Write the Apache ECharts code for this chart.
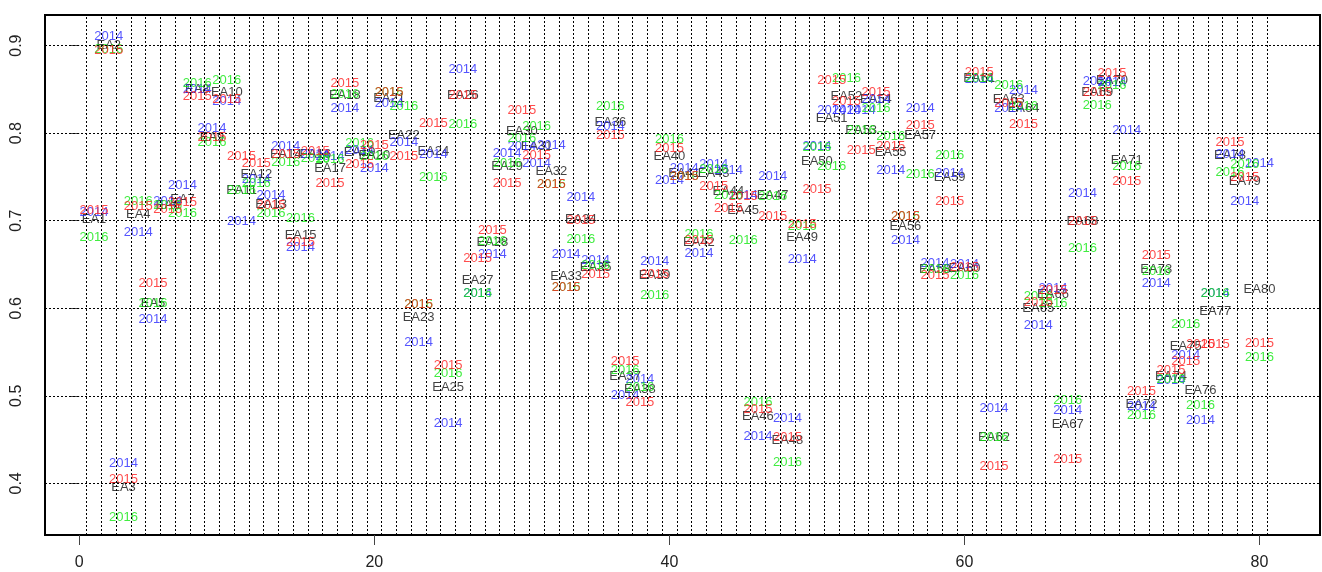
<!DOCTYPE html>
<html>
<head>
<meta charset="utf-8">
<script src="https://cdn.jsdelivr.net/npm/echarts@6/dist/echarts.min.js"></script>
<style>
  html, body { margin: 0; padding: 0; background: #fff; }
  #chart { width: 1322px; height: 572px; }
</style>
</head>
<body>
<div id="chart"></div>
<script>
// labels EA1..EA80 sit at x = 1..80
const eaNames = Array.from({ length: 80 }, (_, i) => 'EA' + (i + 1));

// y of the black EA label
const eaLevel = [
  0.701, 0.900, 0.395, 0.707, 0.605, 0.718, 0.724, 0.850, 0.795, 0.846,
  0.735, 0.753, 0.7185, 0.776, 0.683, 0.776, 0.760, 0.843, 0.778, 0.775,
  0.840, 0.798, 0.590, 0.779, 0.510, 0.843, 0.632, 0.675, 0.7625, 0.802,
  0.785, 0.756, 0.636, 0.702, 0.647, 0.812, 0.522, 0.507, 0.637, 0.774,
  0.754, 0.675, 0.754, 0.733, 0.712, 0.476, 0.729, 0.449, 0.681, 0.7675,
  0.817, 0.842, 0.803, 0.838, 0.778, 0.694, 0.797, 0.6445, 0.750, 0.645,
  0.862, 0.4525, 0.839, 0.828, 0.600, 0.616, 0.4677, 0.699, 0.846, 0.860,
  0.769, 0.4905, 0.6445, 0.522, 0.556, 0.5065, 0.596, 0.775, 0.745, 0.6216
];

const y2014 = [
  0.709, 0.910, 0.423, 0.687, 0.587, 0.722, 0.740, 0.850, 0.806, 0.836,
  0.699, 0.747, 0.729, 0.785, 0.670, 0.776, 0.773, 0.828, 0.780, 0.760,
  0.834, 0.789, 0.561, 0.776, 0.468, 0.873, 0.617, 0.661, 0.777, 0.785,
  0.765, 0.786, 0.661, 0.727, 0.655, 0.808, 0.501, 0.519, 0.653, 0.7465,
  0.760, 0.663, 0.764, 0.757, 0.729, 0.454, 0.751, 0.474, 0.656, 0.785,
  0.8265, 0.8265, 0.8265, 0.8385, 0.757, 0.677, 0.828, 0.651, 0.754, 0.650,
  0.861, 0.4856, 0.828, 0.849, 0.580, 0.623, 0.483, 0.731, 0.859, 0.858,
  0.8037, 0.488, 0.6285, 0.518, 0.5465, 0.4714, 0.617, 0.776, 0.722, 0.7656
];

const y2015 = [
  0.712, 0.895, 0.404, 0.716, 0.628, 0.713, 0.721, 0.842, 0.795, 0.839,
  0.773, 0.766, 0.718, 0.776, 0.675, 0.779, 0.743, 0.857, 0.764, 0.786,
  0.846, 0.773, 0.604, 0.811, 0.535, 0.843, 0.657, 0.689, 0.743, 0.826,
  0.775, 0.741, 0.624, 0.700, 0.639, 0.798, 0.539, 0.493, 0.639, 0.783,
  0.751, 0.678, 0.739, 0.714, 0.728, 0.4845, 0.705, 0.4525, 0.696, 0.736,
  0.860, 0.836, 0.780, 0.847, 0.785, 0.705, 0.809, 0.638, 0.722, 0.647,
  0.869, 0.419, 0.834, 0.8105, 0.607, 0.620, 0.4277, 0.699, 0.846, 0.8677,
  0.745, 0.5046, 0.660, 0.5294, 0.539, 0.559, 0.559, 0.789, 0.750, 0.560
];

const y2016 = [
  0.681, 0.896, 0.361, 0.722, 0.605, 0.718, 0.7085, 0.857, 0.789, 0.860,
  0.735, 0.743, 0.7085, 0.767, 0.703, 0.771, 0.770, 0.844, 0.788, 0.774,
  0.846, 0.830, 0.604, 0.750, 0.526, 0.8105, 0.617, 0.676, 0.766, 0.794,
  0.8075, 0.741, 0.624, 0.679, 0.649, 0.830, 0.529, 0.510, 0.615, 0.793,
  0.751, 0.684, 0.759, 0.729, 0.678, 0.492, 0.728, 0.4235, 0.694, 0.784,
  0.7625, 0.863, 0.803, 0.8285, 0.796, 0.705, 0.753, 0.6445, 0.775, 0.637,
  0.863, 0.452, 0.855, 0.830, 0.613, 0.605, 0.495, 0.668, 0.832, 0.854,
  0.762, 0.478, 0.642, 0.519, 0.582, 0.489, 0.617, 0.755, 0.764, 0.544
];

const xTicks = [0, 20, 40, 60, 80];
const yTicks = [0.4, 0.5, 0.6, 0.7, 0.8, 0.9];
// dotted verticals fall half way between the EA positions
const vGrid = Array.from({ length: 81 }, (_, i) => i + 0.5);

const FONT = '"Liberation Sans", Arial, sans-serif';

const textSeries = (name, values, color, textOf) => ({
    name: name,
    type: 'scatter',
    symbolSize: 1,
    itemStyle: { color: 'transparent' },
    silent: true,
    data: values.map((v, i) => [i + 1, v]),
    label: {
        show: true,
        position: 'inside',
        color: color,
        fontSize: 13,
        fontFamily: FONT,
        formatter: textOf
    }
});

const chart = echarts.init(document.getElementById('chart'));
chart.setOption({
    animation: false,
    grid: {
        show: true,
        left: 45,
        right: 2,
        top: 15,
        bottom: 37,
        borderColor: '#000',
        borderWidth: 2
    },
    xAxis: {
        type: 'value',
        min: -2.324,
        max: 84.1,
        axisLine: { show: false },
        splitLine: { show: false },
        axisTick: {
            show: true,
            customValues: xTicks,
            length: 10,
            lineStyle: { color: '#444' }
        },
        axisLabel: {
            customValues: xTicks,
            margin: 20,
            fontSize: 16,
            color: '#222',
            fontFamily: FONT
        }
    },
    yAxis: {
        type: 'value',
        min: 0.341,
        max: 0.935,
        axisLine: { show: false },
        splitLine: { show: false },
        axisTick: {
            show: true,
            customValues: yTicks,
            length: 10,
            lineStyle: { color: '#444' }
        },
        axisLabel: {
            customValues: yTicks,
            rotate: 90,
            margin: 20,
            fontSize: 16,
            color: '#222',
            fontFamily: FONT,
            formatter: (v) => v.toFixed(1)
        }
    },
    series: [
        {
            type: 'scatter',
            data: [],
            silent: true,
            markLine: {
                silent: true,
                symbol: ['none', 'none'],
                label: { show: false },
                lineStyle: { color: '#000', width: 1, type: [2, 2] },
                data: vGrid.map((x) => ({ xAxis: x }))
                    .concat(yTicks.map((y) => ({ yAxis: y })))
            }
        },
        textSeries('EA', eaLevel, '#111', (p) => eaNames[p.dataIndex]),
        textSeries('2014', y2014, '#2b2bff', () => '2014'),
        textSeries('2016', y2016, '#12e812', () => '2016'),
        textSeries('2015', y2015, '#ff2020', () => '2015')
    ]
});
</script>
</body>
</html>
